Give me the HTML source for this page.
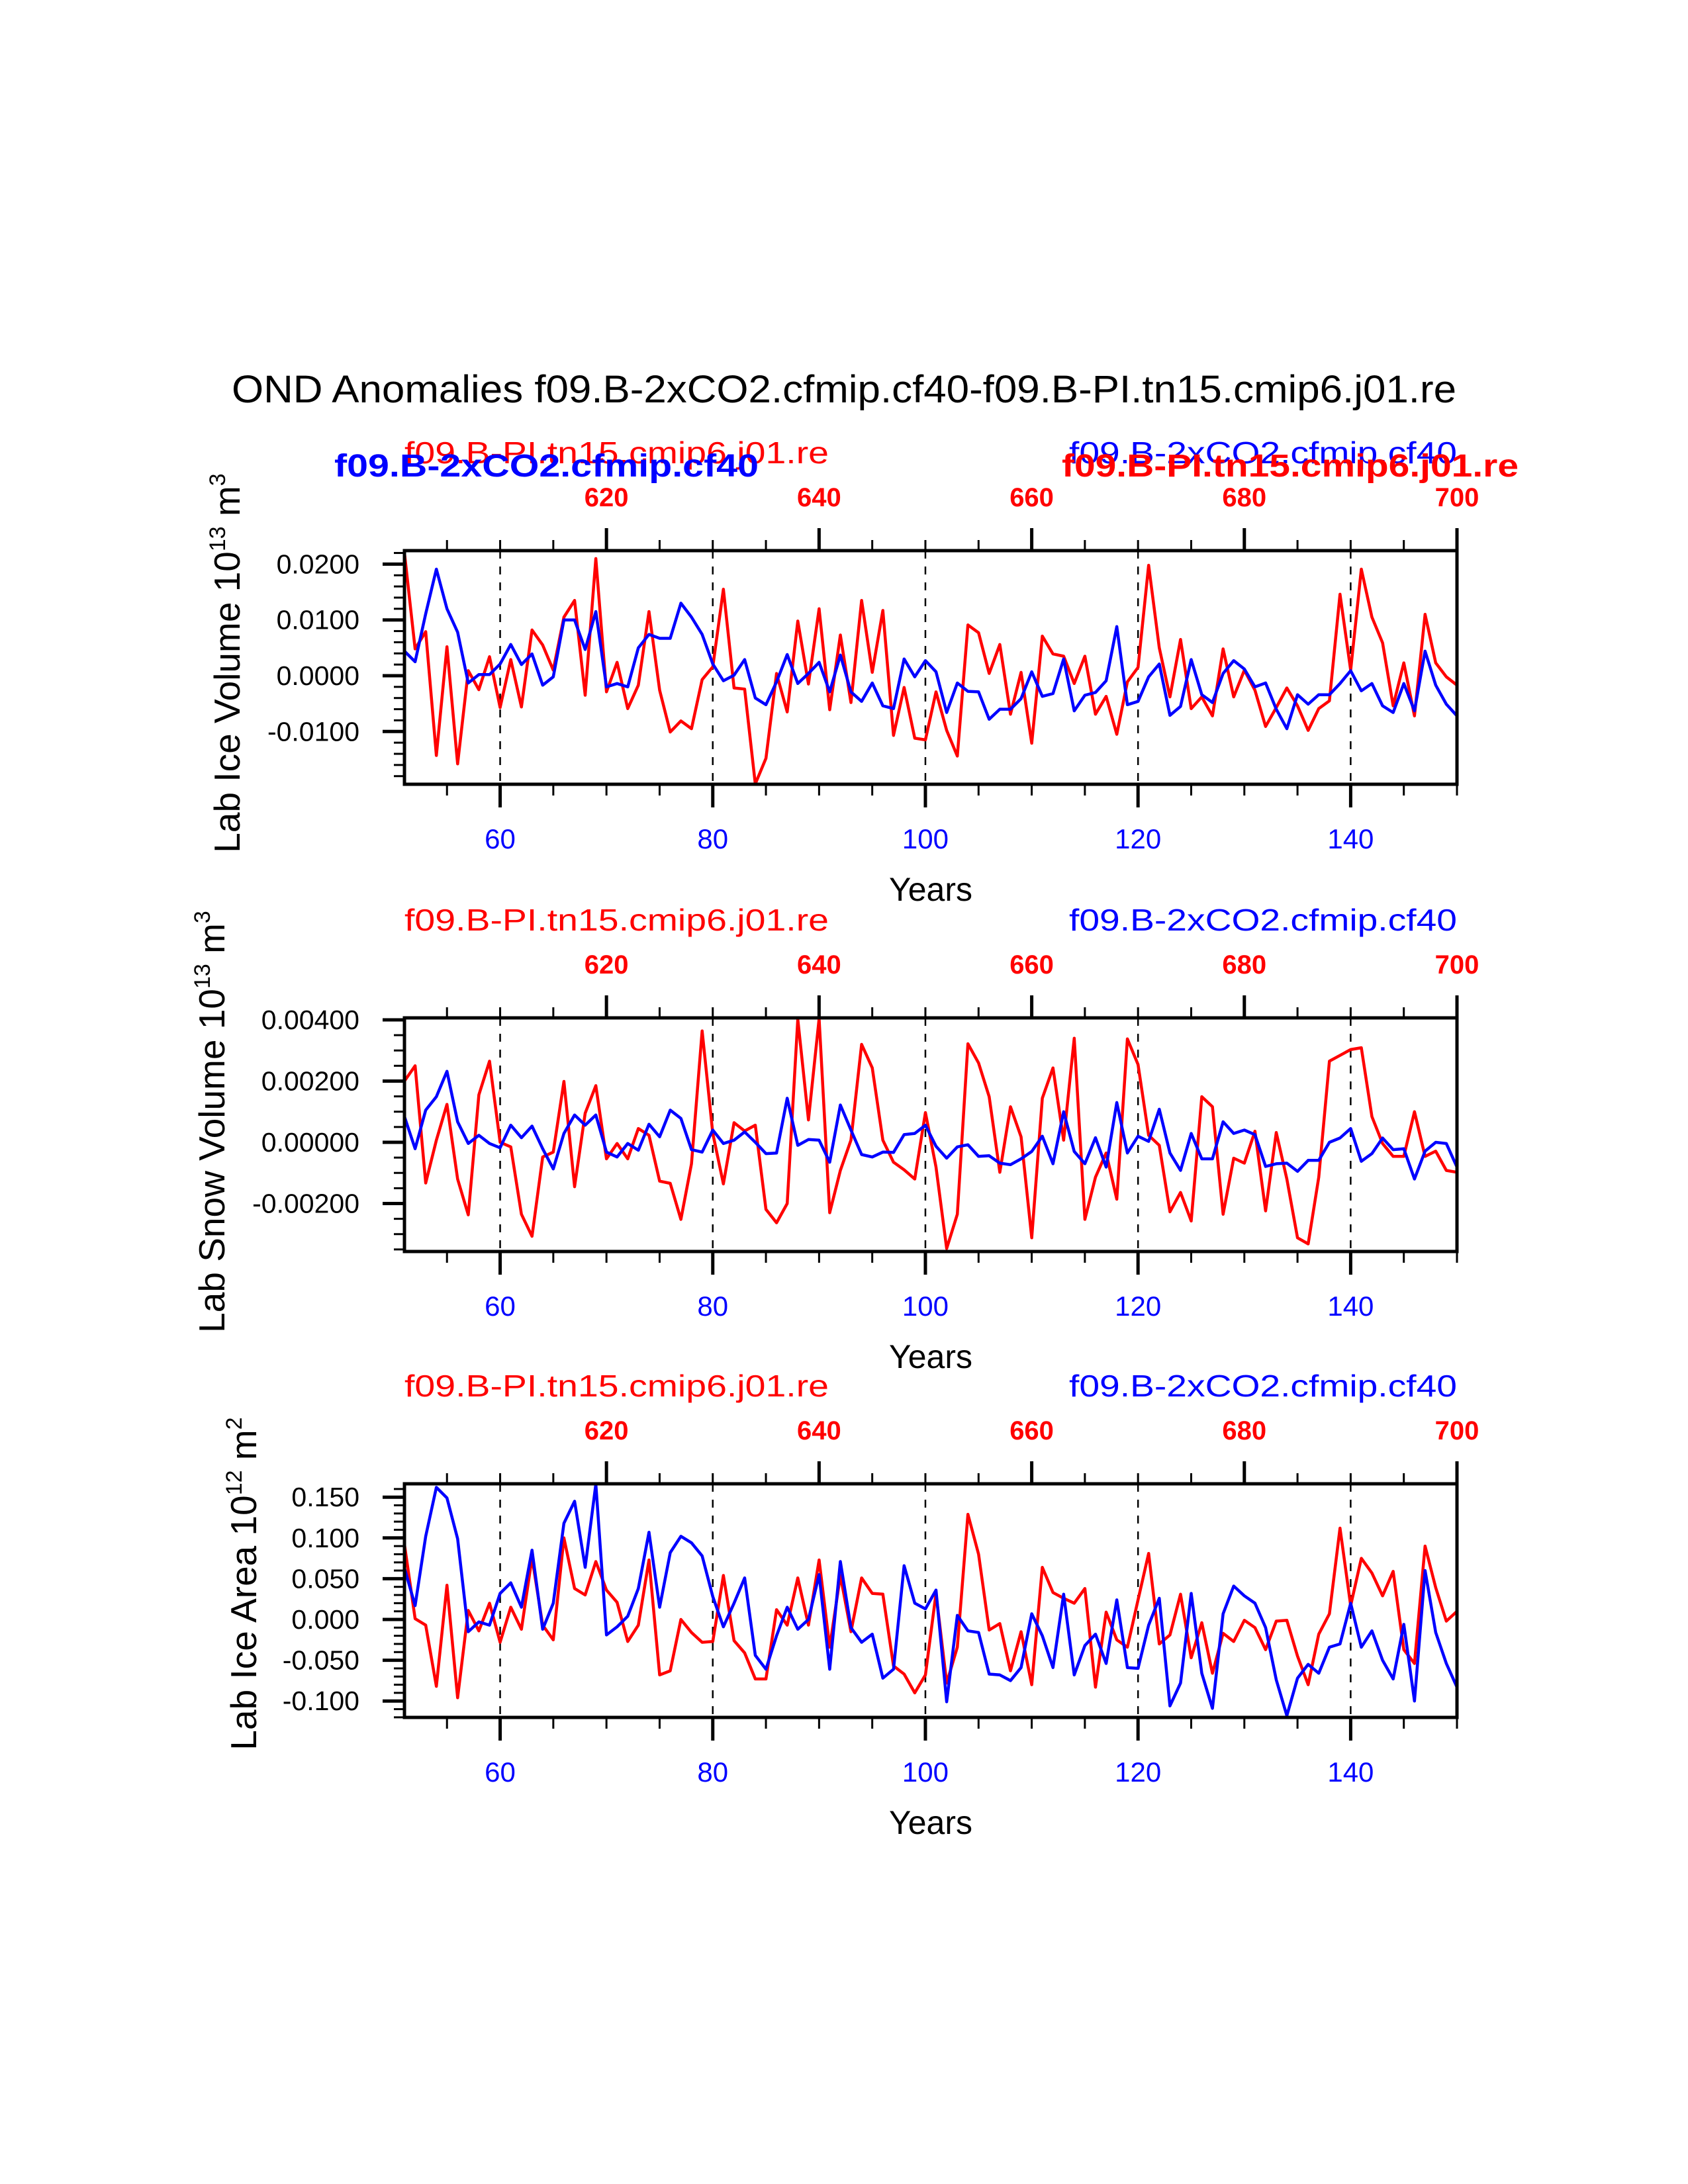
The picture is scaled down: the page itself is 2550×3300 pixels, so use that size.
<!DOCTYPE html>
<html><head><meta charset="utf-8">
<style>
html,body{margin:0;padding:0;background:#fff;}
svg{display:block;}
text{font-family:"Liberation Sans",Arial,sans-serif;}
</style></head>
<body>
<svg id="chart" width="2550" height="3300" viewBox="0 0 2550 3300" xmlns="http://www.w3.org/2000/svg">
<rect x="0" y="0" width="2550" height="3300" fill="#fff"/>
<text x="350" y="608" font-size="58" textLength="1850" lengthAdjust="spacingAndGlyphs" fill="#000">OND Anomalies f09.B-2xCO2.cfmip.cf40-f09.B-PI.tn15.cmip6.j01.re</text>
</svg>
<script>
// ---- data (years 51..150) ----
const yearStart = 51;
const yearEnd = 150;
const bottomTickYears = [60, 80, 100, 120, 140];
const bottomTickLabels = ["60", "80", "100", "120", "140"];
const topTickYears = [70, 90, 110, 130, 150];
const topTickLabels = ["620", "640", "660", "680", "700"];

// Panel 1: Lab Ice Volume (units of 0.001)
const iceVolRed = [22,4.8,7.9,-14.3,5.2,-15.8,0.9,-2.5,3.4,-5.7,2.9,-5.6,8.2,5.5,1.0,10.5,13.5,-3.5,21,-2.9,2.4,-5.9,-1.7,11.5,-2.6,-10.1,-8.1,-9.5,-0.7,1.6,15.5,-2.2,-2.4,-19.4,-14.8,0.4,-6.5,9.8,-1.5,12,-6.1,7.3,-4.8,13.5,0.6,11.7,-10.7,-2.1,-11.2,-11.5,-2.9,-9.8,-14.4,9.1,7.7,0.4,5.6,-6.9,0.6,-12.1,7.1,3.9,3.5,-1.4,3.5,-6.9,-3.7,-10.5,-1.1,1.5,19.8,5,-3.8,6.5,-5.9,-3.8,-7.2,4.8,-3.8,1,-2.6,-9.1,-5.7,-2.2,-5.4,-9.8,-5.9,-4.5,14.6,1,19.1,10.5,5.9,-5.4,2.3,-7.2,11,2.3,-0.2,-1.7];
const iceVolBlue = [4.4,2.5,11.1,19.1,12,7.8,-1.3,0.2,0.2,2.1,5.6,2,3.9,-1.7,-0.2,10,10,4.7,11.5,-2,-1.4,-2,5,7.4,6.7,6.7,13,10.5,7.4,2.1,-0.9,0.1,2.9,-4,-5.2,-1.1,3.8,-1.4,0.4,2.4,-2.9,3.7,-2.9,-4.6,-1.3,-5.4,-5.9,3,-0.2,2.7,0.7,-6.6,-1.3,-2.8,-2.9,-7.8,-6,-6,-4.1,0.7,-3.7,-3.2,3,-6.3,-3.5,-3.0,-0.9,8.8,-5.2,-4.6,-0.2,2.1,-7.1,-5.5,2.9,-3.4,-4.8,0.4,2.7,1.2,-2,-1.3,-6,-9.5,-3.4,-5.1,-3.4,-3.4,-1.4,0.9,-2.7,-1.4,-5.4,-6.6,-1.4,-6.3,4.4,-1.7,-5.1,-7.2];

// Panel 2: Lab Snow Volume (units of 0.001)
const snowVolRed = [2.0,2.5,-1.33,0.07,1.24,-1.2,-2.37,1.55,2.65,0,-0.15,-2.35,-3.07,-0.48,-0.32,1.99,-1.45,0.95,1.85,-0.54,-0.04,-0.54,0.45,0.23,-1.27,-1.34,-2.52,-0.7,3.64,0.29,-1.36,0.64,0.37,0.56,-2.19,-2.63,-2.0,4.02,0.73,4.04,-2.3,-0.92,0.07,3.2,2.43,0.07,-0.65,-0.9,-1.2,0.97,-0.81,-3.47,-2.35,3.22,2.59,1.49,-0.98,1.16,0.18,-3.12,1.44,2.43,0.07,3.4,-2.52,-1.14,-0.35,-1.86,3.38,2.54,0.23,-0.1,-2.27,-1.64,-2.57,1.49,1.16,-2.35,-0.52,-0.68,0.36,-2.24,0.32,-1.2,-3.12,-3.32,-1.14,2.65,2.84,3.03,3.09,0.84,-0.04,-0.46,-0.46,1.0,-0.46,-0.29,-0.92,-0.98];
const snowVolBlue = [0.84,-0.21,1.05,1.49,2.32,0.67,-0.04,0.23,-0.04,-0.18,0.56,0.15,0.53,-0.21,-0.87,0.29,0.89,0.56,0.89,-0.32,-0.48,-0.04,-0.26,0.59,0.18,1.05,0.78,-0.24,-0.32,0.4,-0.04,0.07,0.34,0,-0.37,-0.35,1.44,-0.1,0.09,0.07,-0.65,1.22,0.4,-0.4,-0.48,-0.32,-0.33,0.25,0.29,0.56,-0.13,-0.52,-0.15,-0.08,-0.46,-0.44,-0.68,-0.73,-0.54,-0.3,0.2,-0.7,1.0,-0.3,-0.7,0.15,-0.81,1.3,-0.35,0.2,0.03,1.08,-0.35,-0.92,0.29,-0.54,-0.54,0.67,0.29,0.4,0.25,-0.79,-0.7,-0.68,-0.95,-0.59,-0.59,0,0.14,0.45,-0.62,-0.37,0.14,-0.24,-0.21,-1.2,-0.29,0,-0.04,-0.81];

// Panel 3: Lab Ice Area (units of 0.001)
const iceAreaRed = [92,1,-7,-82,42,-96,11,-14,20,-28,15,-12,76,-7,-25,100,38,30,71,36,21,-27,-7,73,-68,-63,0,-16,-28,-27,54,-26,-41,-73,-73,12,-7,51,-7,73,-34,54,-15,51,32,31,-57,-67,-90,-68,32,-78,-34,129,80,-13,-5,-63,-15,-80,64,33,26,20,38,-83,9,-25,-34,24,81,-30,-19,31,-47,-4,-66,-17,-27,-1,-10,-37,-2,-1,-45,-80,-18,7,112,17,75,57,29,59,-37,-54,90,39,-2,10];
const iceAreaBlue = [63,17,102,162,149,99,-15,-3,-7,32,45,15,85,-12,20,118,145,64,166,-19,-9,4,38,107,15,82,102,94,78,28,-9,20,51,-44,-61,-20,15,-12,0,55,-61,71,-10,-28,-18,-72,-61,66,20,13,36,-101,5,-14,-16,-67,-68,-75,-59,7,-20,-59,31,-68,-32,-18,-54,24,-59,-60,-7,26,-106,-78,32,-66,-109,7,41,29,20,-10,-74,-118,-72,-55,-66,-34,-30,20,-34,-14,-50,-73,-6,-100,60,-16,-54,-83];

const panelTitles = ["Lab Ice Volume 10", "Lab Snow Volume 10", "Lab Ice Area 10"];
const panelExps = ["13", "13", "12"];
const panelUnits = ["m", "m", "m"];
const panelUnitExps = ["3", "3", "2"];
const p1Ticks = [0.0200, 0.0100, 0.0000, -0.0100];
const p1TickLabels = ["0.0200", "0.0100", "0.0000", "-0.0100"];
const p2Ticks = [0.004, 0.002, 0.000, -0.002];
const p2TickLabels = ["0.00400", "0.00200", "0.00000", "-0.00200"];
const p3Ticks = [0.15, 0.10, 0.05, 0.00, -0.05, -0.10];
const p3TickLabels = ["0.150", "0.100", "0.050", "0.000", "-0.050", "-0.100"];

// ---- layout ----
const NS = "http://www.w3.org/2000/svg";
const svg = document.getElementById("chart");
const LEFT = 611, RIGHT = 2201;
function xScale(yr){ return LEFT + (yr - yearStart) * (RIGHT - LEFT) / (yearEnd - yearStart); }

const panels = [
  {top:832, zeroY:1021, pxPerUnit:8430, red:iceVolRed, blue:iceVolBlue, mult:0.001, ticks:p1Ticks, labels:p1TickLabels, minorStep:0.002, titleX:343, titleY:1002},
  {top:1538, zeroY:1726, pxPerUnit:46250, red:snowVolRed, blue:snowVolBlue, mult:0.001, ticks:p2Ticks, labels:p2TickLabels, minorStep:0.0005, titleX:320, titleY:1695},
  {top:2242, zeroY:2447, pxPerUnit:1232, red:iceAreaRed, blue:iceAreaBlue, mult:0.001, ticks:p3Ticks, labels:p3TickLabels, minorStep:0.01, titleX:368, titleY:2393}
];
const H = 353;

function mk(tag, attrs, parent){
  const e = document.createElementNS(NS, tag);
  for (const k in attrs) e.setAttribute(k, attrs[k]);
  (parent || svg).appendChild(e);
  return e;
}

panels.forEach((p, i) => {
  const bottom = p.top + H;
  const yScale = v => p.zeroY - v * p.pxPerUnit;
  const g = mk("g", {});
  
  

  bottomTickYears.forEach(yr => {
    const l = mk("line", {x1:xScale(yr), x2:xScale(yr), y1:p.top, y2:bottom, stroke:"#000", "stroke-width":2.5, "stroke-dasharray":"12,12"}, g);
    
    
  });

  [[p.red, "#ff0000", "red-series"], [p.blue, "#0000ff", "blue-series"]].forEach(([arr, col, nm]) => {
    const vmax = (p.zeroY - p.top) / p.pxPerUnit;
    const vmin = (p.zeroY - bottom) / p.pxPerUnit;
    const pts = arr.map((v, k) => {
      let val = v * p.mult;
      val = Math.max(vmin, Math.min(vmax, val));
      return xScale(yearStart + k).toFixed(1) + "," + yScale(val).toFixed(1);
    }).join(" ");
    const pl = mk("polyline", {points:pts, fill:"none", stroke:col, "stroke-width":4.5, "stroke-linejoin":"round"}, g);
    
    
  });

  const fr = mk("rect", {x:LEFT, y:p.top, width:RIGHT - LEFT, height:H, fill:"none", stroke:"#000", "stroke-width":5}, g);
  
  

  for (let yr = 55; yr <= 150; yr += 5) {
    const isBottomMajor = bottomTickYears.includes(yr);
    const isTopMajor = topTickYears.includes(yr);
    mk("line", {x1:xScale(yr), x2:xScale(yr), y1:bottom, y2:bottom + (isBottomMajor ? 35 : 17), stroke:"#000", "stroke-width":isBottomMajor ? 5 : 3}, g);
    mk("line", {x1:xScale(yr), x2:xScale(yr), y1:p.top, y2:p.top - (isTopMajor ? 34 : 16), stroke:"#000", "stroke-width":isTopMajor ? 5 : 3}, g);
  }
  bottomTickYears.forEach((yr, k) => {
    const t = mk("text", {x:xScale(yr), y:bottom + 97, "text-anchor":"middle", "font-size":42, fill:"#0000ff"}, g);
    t.textContent = bottomTickLabels[k];
    
    
  });
  topTickYears.forEach((yr, k) => {
    const t = mk("text", {x:xScale(yr), y:p.top - 67, "text-anchor":"middle", "font-size":40, "font-weight":"bold", fill:"#ff0000"}, g);
    t.textContent = topTickLabels[k];
    
    
  });

  const vmaxP = (p.zeroY - p.top) / p.pxPerUnit;
  const vminP = (p.zeroY - bottom) / p.pxPerUnit;
  const nStart = Math.ceil(vminP / p.minorStep - 1e-6);
  const nEnd = Math.floor(vmaxP / p.minorStep + 1e-6);
  for (let n = nStart; n <= nEnd; n++) {
    const y = yScale(n * p.minorStep);
    mk("line", {x1:LEFT - 16, x2:LEFT, y1:y, y2:y, stroke:"#000", "stroke-width":3}, g);
  }
  p.ticks.forEach((v, k) => {
    const y = yScale(v);
    mk("line", {x1:LEFT - 33, x2:LEFT, y1:y, y2:y, stroke:"#000", "stroke-width":5}, g);
    const t = mk("text", {x:543, y:y + 14, "text-anchor":"end", "font-size":41, fill:"#000"}, g);
    t.textContent = p.labels[k];
    
    
  });

  const xt = mk("text", {x:(LEFT + RIGHT) / 2, y:bottom + 176, "text-anchor":"middle", "font-size":50, fill:"#000"}, g);
  xt.textContent = "Years";
  
  

  const yt = mk("text", {x:0, y:0, "text-anchor":"middle", "font-size":55, fill:"#000", transform:"translate(" + (p.titleX + 19) + "," + p.titleY + ") rotate(-90)"}, g);
  
  
  const s1 = mk("tspan", {}, yt); s1.textContent = panelTitles[i];
  const s2 = mk("tspan", {dy:-22, "font-size":34}, yt); s2.textContent = panelExps[i];
  const s3 = mk("tspan", {dy:22}, yt); s3.textContent = " " + panelUnits[i];
  const s4 = mk("tspan", {dy:-22, "font-size":34}, yt); s4.textContent = panelUnitExps[i];

  const base = p.top - 132;
  const rs = mk("text", {x:611, y:base, "font-size":46, fill:"#ff0000", textLength:641, lengthAdjust:"spacingAndGlyphs"}, g);
  rs.textContent = "f09.B-PI.tn15.cmip6.j01.re";
  
  
  const bs = mk("text", {x:1615, y:base, "font-size":46, fill:"#0000ff", textLength:586, lengthAdjust:"spacingAndGlyphs"}, g);
  bs.textContent = "f09.B-2xCO2.cfmip.cf40";
  
  

  if (i === 0) {
    const bb = mk("text", {x:505, y:base + 20, "font-size":48, "font-weight":"bold", fill:"#0000ff", textLength:641, lengthAdjust:"spacingAndGlyphs"}, g);
    bb.textContent = "f09.B-2xCO2.cfmip.cf40";
    
    
    const rb = mk("text", {x:1604, y:base + 20, "font-size":48, "font-weight":"bold", fill:"#ff0000", textLength:690, lengthAdjust:"spacingAndGlyphs"}, g);
    rb.textContent = "f09.B-PI.tn15.cmip6.j01.re";
    
    
  }
});
</script>
</body></html>
